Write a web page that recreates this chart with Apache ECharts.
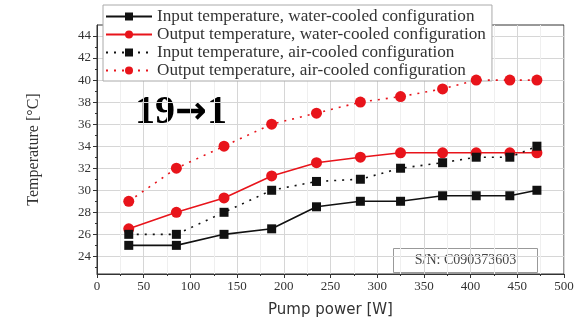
<!DOCTYPE html>
<html>
<head>
<meta charset="utf-8">
<script src="https://cdn.jsdelivr.net/npm/echarts@6/dist/echarts.min.js"></script>
<style>
  html, body { margin: 0; padding: 0; background: #fff; }
  #chart { width: 575px; height: 318px; }
</style>
</head>
<body>
<div id="chart"></div>
<script>
// pump power [W]
const pumpPower = [34, 85, 136, 187, 235, 282, 325, 370, 406, 442, 471];

// temperatures [°C]
const inputWater = [25, 25, 26, 26.5, 28.5, 29, 29, 29.5, 29.5, 29.5, 30];
const outputWater = [26.5, 28, 29.3, 31.3, 32.5, 33, 33.4, 33.4, 33.4, 33.4, 33.4];
const inputAir = [26, 26, 28, 30, 30.8, 31, 32, 32.5, 33, 33, 34];
const outputAir = [29, 32, 34, 36, 37, 38, 38.5, 39.2, 40, 40, 40];

const yTicks = [24, 26, 28, 30, 32, 34, 36, 38, 40, 42, 44];
const yMinorTicks = [23, 25, 27, 29, 31, 33, 35, 37, 39, 41, 43];

const seriesNames = [
    'Input temperature, water-cooled configuration',
    'Output temperature, water-cooled configuration',
    'Input temperature, air-cooled configuration',
    'Output temperature, air-cooled configuration'
];

const SERIF = '"Liberation Serif", "Times New Roman", serif';
const RED = '#e8141b';

function pairs(ys) {
    return pumpPower.map((x, i) => [x, ys[i]]);
}

function makeSeries(name, ys, color, symbol, dotted) {
    return {
        name: name,
        type: 'line',
        data: pairs(ys),
        symbol: symbol,
        symbolSize: symbol === 'rect' ? 9 : 11,
        itemStyle: { color: color },
        lineStyle: {
            color: color,
            width: 1.6,
            type: dotted ? [2, 6] : 'solid'
        },
        z: 5
    };
}

const chart = echarts.init(document.getElementById('chart'));
const option = {
    animation: false,
    grid: {
        left: 97,
        right: 11,
        top: 25,
        bottom: 44,
        outerBoundsMode: 'none',
        show: true,
        borderColor: '#333',
        borderWidth: 1
    },
    legend: {
        orient: 'vertical',
        left: 103,
        top: 5,
        itemWidth: 46,
        itemHeight: 10,
        itemGap: 1,
        padding: [3, 6, 2, 2],
        backgroundColor: '#fff',
        borderColor: '#aaa',
        borderWidth: 1,
        textStyle: { fontFamily: SERIF, fontSize: 17.2, color: '#333' },
        data: seriesNames
    },
    xAxis: {
        type: 'value',
        min: 0,
        max: 500,
        interval: 50,
        name: 'Pump power [W]',
        nameLocation: 'middle',
        nameGap: 29,
        nameTextStyle: { fontFamily: '"DejaVu Sans", sans-serif', fontSize: 15, color: '#333' },
        axisLine: { lineStyle: { color: '#333' } },
        axisTick: { length: 4, lineStyle: { color: '#333' } },
        minorTick: { show: true, splitNumber: 2, length: 2, lineStyle: { color: '#333' } },
        axisLabel: { fontFamily: SERIF, fontSize: 13, color: '#333', margin: 6 },
        splitLine: { lineStyle: { color: '#d6d6d6' } },
        minorSplitLine: { show: true, lineStyle: { color: '#efefef' } }
    },
    yAxis: [{
        type: 'value',
        min: 22.4,
        max: 45,
        name: 'Temperature [°C]',
        nameLocation: 'middle',
        nameGap: 55,
        nameTextStyle: { fontFamily: SERIF, fontSize: 16, color: '#333' },
        axisLine: { show: true, lineStyle: { color: '#333' } },
        axisTick: { show: true, length: 4, customValues: yTicks, lineStyle: { color: '#333' } },
        axisLabel: { fontFamily: SERIF, fontSize: 13, color: '#333', margin: 6, customValues: yTicks },
        splitLine: { show: true, lineStyle: { color: '#d6d6d6' } }
    }, {
        type: 'value',
        min: 22.4,
        max: 45,
        position: 'left',
        axisLine: { show: false },
        axisTick: { show: true, length: 2, customValues: yMinorTicks, lineStyle: { color: '#333' } },
        axisLabel: { show: false },
        splitLine: { show: false }
    }],
    graphic: [{
        type: 'group',
        left: 115,
        top: 80,
        children: [{
            type: 'rect',
            shape: { x: 0, y: 0, width: 132, height: 63 },
            style: { fill: '#fff' }
        }, {
            type: 'text',
            x: 66,
            y: 33,
            style: {
                text: '{n|19}{a|\u2192}{n|1}',
                align: 'center',
                verticalAlign: 'middle',
                rich: {
                    n: { fontFamily: SERIF, fontSize: 40, fontWeight: 'bold', fill: '#000' },
                    a: { fontFamily: '"DejaVu Sans", sans-serif', fontSize: 38, fontWeight: 'bold', fill: '#000' }
                }
            }
        }]
    }, {
        type: 'group',
        left: 393,
        top: 248,
        children: [{
            type: 'rect',
            shape: { x: 0, y: 0, width: 144, height: 24 },
            style: { fill: '#fff', stroke: '#999', lineWidth: 1 }
        }, {
            type: 'text',
            x: 72,
            y: 12,
            style: {
                text: 'S/N: C090373603',
                fontFamily: SERIF,
                fontSize: 14,
                fill: '#444',
                align: 'center',
                verticalAlign: 'middle'
            }
        }]
    }],
    series: [
        makeSeries(seriesNames[0], inputWater, '#111', 'rect', false),
        makeSeries(seriesNames[1], outputWater, RED, 'circle', false),
        makeSeries(seriesNames[2], inputAir, '#111', 'rect', true),
        makeSeries(seriesNames[3], outputAir, RED, 'circle', true)
    ]
};

chart.setOption(option);
window.addEventListener('resize', chart.resize);
</script>
</body>
</html>
